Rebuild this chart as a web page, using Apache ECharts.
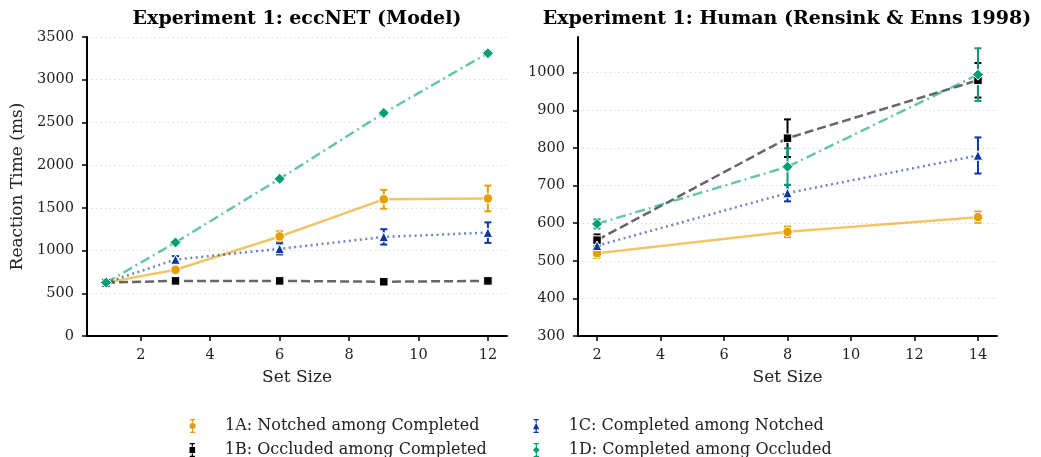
<!DOCTYPE html>
<html>
<head>
    <meta charset="utf-8">
    <title>Experiment 1</title>
    <script type="text/javascript" src="https://cdn.jsdelivr.net/npm/echarts/dist/echarts.min.js"></script>
</head>
<style type="text/css">
    html, body { margin: 0; padding: 0; background: #fff; }
    #chart { width: 1041px; height: 457px; }
</style>
<body>
    <div id="chart"></div>
    <script type="text/javascript">
        // ---- data ----
        var seriesNames = ['1A: Notched among Completed', '1B: Occluded among Completed',
            '1C: Completed among Notched', '1D: Completed among Occluded'];

        // model (left panel)
        var setSizeModel = [1, 3, 6, 9, 12];
        var model1A = [625, 775, 1165, 1600, 1610];
        var model1B = [625, 645, 645, 635, 645];
        var model1C = [625, 895, 1020, 1160, 1210];
        var model1D = [625, 1095, 1840, 2610, 3310];
        var modelErr1A = [0, 30, 60, 110, 150];
        var modelErr1B = [0, 10, 10, 15, 10];
        var modelErr1C = [0, 40, 65, 90, 120];
        var modelErr1D = [0, 15, 15, 20, 25];

        // human (right panel)
        var setSizeHuman = [2, 8, 14];
        var human1A = [520, 577, 616];
        var human1B = [555, 826, 980];
        var human1C = [540, 680, 780];
        var human1D = [598, 750, 995];
        var humanErr1A = [12, 14, 15];
        var humanErr1B = [15, 50, 46];
        var humanErr1C = [10, 22, 48];
        var humanErr1D = [12, 49, 70];

        var modelTicksX = [2, 4, 6, 8, 10, 12];
        var humanTicksX = [2, 4, 6, 8, 10, 12, 14];
        var humanTicksY = [300, 400, 500, 600, 700, 800, 900, 1000];

        // ---- style ----
        var font = 'DejaVu Serif';
        var markColors = ['#E69F00', '#000000', '#0b35a0', '#009E73'];
        var symbols = ['circle', 'rect', 'triangle', 'diamond'];
        var symbolSizes = [9.5, 8.5, 9.5, 11];
        var dashes = ['solid', [9, 4], [2, 3.5], [10, 4, 2, 4]];

        var caps = 'M1,0H7V1.5H1Z M1,14.5H7V16H1Z M3.3,1.5H4.7V4.3H3.3Z M3.3,11.7H4.7V14.5H3.3Z ';
        var legendIcons = [
            'path://' + caps + 'M0.5,8A3.5,3.5 0 1,1 7.5,8A3.5,3.5 0 1,1 0.5,8Z',
            'path://' + caps + 'M0.8,4.6H7.2V11.4H0.8Z',
            'path://' + caps + 'M4,4.3L7.6,11.7H0.4Z',
            'path://' + caps + 'M4,4.1L7.8,8L4,11.9L0.2,8Z'
        ];
        // legend slots: [left, top]
        var legendPos = [[189.5, 418], [189.5, 442], [533, 418], [533, 442]];

        function zip(xs, ys) {
            return xs.map(function (x, i) { return [x, ys[i]]; });
        }
        function zip3(xs, ys, es) {
            return xs.map(function (x, i) { return [x, ys[i], es[i]]; });
        }

        function errRender(color) {
            return function (params, api) {
                var x = api.value(0), y = api.value(1), e = api.value(2);
                var top = api.coord([x, y + e]);
                var bot = api.coord([x, y - e]);
                var w = 3.5;
                var st = { stroke: color, lineWidth: 2 };
                return {
                    type: 'group',
                    children: [
                        { type: 'line', shape: { x1: top[0], y1: top[1], x2: bot[0], y2: bot[1] }, style: st },
                        { type: 'line', shape: { x1: top[0] - w, y1: top[1], x2: top[0] + w, y2: top[1] }, style: st },
                        { type: 'line', shape: { x1: bot[0] - w, y1: bot[1], x2: bot[0] + w, y2: bot[1] }, style: st }
                    ]
                };
            };
        }

        var modelVals = [model1A, model1B, model1C, model1D];
        var modelErrs = [modelErr1A, modelErr1B, modelErr1C, modelErr1D];
        var humanVals = [human1A, human1B, human1C, human1D];
        var humanErrs = [humanErr1A, humanErr1B, humanErr1C, humanErr1D];

        var series = [];
        function addPanel(axisIdx, xs, vals, errs) {
            for (var i = 0; i < 4; i++) {
                series.push({
                    type: 'custom',
                    xAxisIndex: axisIdx, yAxisIndex: axisIdx,
                    renderItem: errRender(markColors[i]),
                    data: zip3(xs, vals[i], errs[i]),
                    z: 2,
                    silent: true
                });
            }
            for (var i = 0; i < 4; i++) {
                series.push({
                    name: seriesNames[i],
                    type: 'line',
                    xAxisIndex: axisIdx, yAxisIndex: axisIdx,
                    data: zip(xs, vals[i]),
                    symbol: symbols[i],
                    symbolSize: symbolSizes[i],
                    showAllSymbol: true,
                    itemStyle: { color: markColors[i], borderColor: '#fff', borderWidth: 1, opacity: 1 },
                    lineStyle: { color: markColors[i], opacity: 0.6, width: 2.5, type: dashes[i], cap: 'butt' },
                    emphasis: { disabled: true },
                    z: 3 + i * 0.1
                });
            }
        }
        addPanel(0, setSizeModel, modelVals, modelErrs);
        addPanel(1, setSizeHuman, humanVals, humanErrs);

        var legends = seriesNames.map(function (name, i) {
            return {
                orient: 'vertical', left: legendPos[i][0], top: legendPos[i][1], padding: 0,
                itemWidth: 7, itemHeight: 14, selectedMode: false,
                data: [{ name: name, icon: legendIcons[i] }],
                itemStyle: { borderWidth: 0 },
                textStyle: { fontFamily: font, fontSize: 16, color: '#222', padding: [0, 0, 0, 24] }
            };
        });

        var noComma = function (v) { return String(v); };
        var axisLine = { show: true, lineStyle: { color: '#000', width: 2 } };
        var axisTick = { show: true, length: 5, lineStyle: { color: '#000', width: 1.5 } };
        var label = { fontFamily: font, fontSize: 14.5, color: '#222', formatter: noComma };
        var grid = { show: true, lineStyle: { color: '#dcdcdc', type: [1.5, 3], width: 1 } };
        var nameStyle = { fontFamily: font, fontSize: 17, color: '#222' };
        var titleFont = 'bold 19px "DejaVu Serif"';

        var chart = echarts.init(document.getElementById('chart'));
        var option = {
            animation: false,
            backgroundColor: '#fff',
            graphic: [
                { type: 'text', x: 297, y: 19, style: { text: 'Experiment 1: eccNET (Model)', font: titleFont, fill: '#000', align: 'center', verticalAlign: 'middle' } },
                { type: 'text', x: 787, y: 19, style: { text: 'Experiment 1: Human (Rensink & Enns 1998)', font: titleFont, fill: '#000', align: 'center', verticalAlign: 'middle' } }
            ],
            grid: [
                { left: 87, right: 534, top: 37, bottom: 121 },
                { left: 578, right: 44, top: 37, bottom: 121 }
            ],
            legend: legends,
            xAxis: [
                {
                    type: 'value', gridIndex: 0, min: 0.45, max: 12.55,
                    name: 'Set Size', nameLocation: 'middle', nameGap: 33, nameTextStyle: nameStyle,
                    axisLine: axisLine, axisTick: Object.assign({ customValues: modelTicksX }, axisTick),
                    axisLabel: Object.assign({ customValues: modelTicksX, margin: 12 }, label),
                    splitLine: { show: false }
                },
                {
                    type: 'value', gridIndex: 1, min: 1.4, max: 14.6,
                    name: 'Set Size', nameLocation: 'middle', nameGap: 33, nameTextStyle: nameStyle,
                    axisLine: axisLine, axisTick: Object.assign({ customValues: humanTicksX }, axisTick),
                    axisLabel: Object.assign({ customValues: humanTicksX, margin: 12 }, label),
                    splitLine: { show: false }
                }
            ],
            yAxis: [
                {
                    type: 'value', gridIndex: 0, min: 0, max: 3500, interval: 500,
                    name: 'Reaction Time (ms)', nameLocation: 'middle', nameGap: 61, nameTextStyle: nameStyle,
                    axisLine: axisLine, axisTick: axisTick,
                    axisLabel: Object.assign({ margin: 13 }, label),
                    splitLine: grid
                },
                {
                    type: 'value', gridIndex: 1, min: 300, max: 1095, interval: 100,
                    axisLine: axisLine, axisTick: Object.assign({ customValues: humanTicksY }, axisTick),
                    axisLabel: Object.assign({ customValues: humanTicksY, margin: 13 }, label),
                    splitLine: grid
                }
            ],
            series: series
        };
        chart.setOption(option);
    </script>
</body>
</html>
